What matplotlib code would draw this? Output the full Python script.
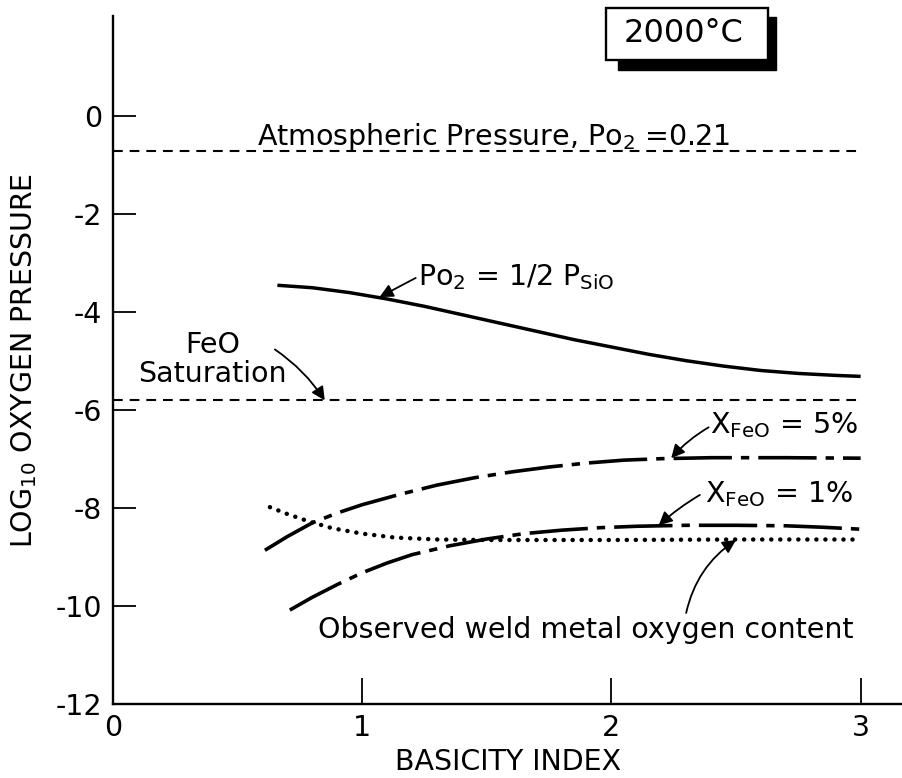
import matplotlib
matplotlib.use("Agg")
import matplotlib.pyplot as plt
from matplotlib.patches import Rectangle

plt.rcParams['font.family'] = ['DejaVu Sans']
plt.rcParams['mathtext.default'] = 'regular'
plt.rcParams['lines.scale_dashes'] = False

# horizontal reference levels
atm_level = -0.70
feo_sat_level = -5.80
hline_x = [0.0, 3.0]

# Po2 = 1/2 PSiO
psio_x = [0.66, 0.80, 0.95, 1.10, 1.25, 1.40, 1.55, 1.70, 1.85, 2.00, 2.15, 2.30, 2.45, 2.60, 2.75, 2.90, 3.00]
psio_y = [-3.45, -3.50, -3.60, -3.73, -3.88, -4.05, -4.22, -4.39, -4.56, -4.71, -4.86, -4.99, -5.10, -5.19, -5.25, -5.29, -5.31]

# X_FeO = 5%
feo5_x = [0.61, 0.70, 0.80, 0.90, 1.00, 1.15, 1.30, 1.45, 1.60, 1.75, 1.90, 2.05, 2.20, 2.40, 2.70, 3.00]
feo5_y = [-8.86, -8.58, -8.30, -8.10, -7.93, -7.72, -7.53, -7.38, -7.26, -7.16, -7.08, -7.02, -6.99, -6.97, -6.97, -6.98]

# X_FeO = 1%
feo1_x = [0.71, 0.80, 0.90, 1.00, 1.10, 1.20, 1.35, 1.50, 1.65, 1.80, 1.95, 2.10, 2.30, 2.50, 2.70, 2.85, 3.00]
feo1_y = [-10.08, -9.82, -9.56, -9.32, -9.12, -8.95, -8.77, -8.63, -8.52, -8.45, -8.40, -8.37, -8.35, -8.35, -8.36, -8.39, -8.43]

# observed weld metal oxygen
obs_x = [0.63, 0.70, 0.78, 0.88, 1.00, 1.13, 1.30, 1.50, 2.00, 2.50, 3.00]
obs_y = [-7.98, -8.12, -8.26, -8.41, -8.52, -8.60, -8.64, -8.65, -8.65, -8.64, -8.64]

xticks = [0, 1, 2, 3]
yticks = [-12, -10, -8, -6, -4, -2, 0]
ytick_labels = ['-12', '-10', '-8', '-6', '-4', '-2', '0']

fs = 20.5

fig = plt.figure(figsize=(9.03, 7.78), dpi=100)
ax = fig.add_axes([0.125, 0.095, 0.875, 0.884])

# dashed reference lines
ax.plot(hline_x, [atm_level, atm_level], color='k', lw=1.5, dashes=(7, 5))
ax.plot(hline_x, [feo_sat_level, feo_sat_level], color='k', lw=1.5, dashes=(7, 5))

ax.plot(psio_x, psio_y, color='k', lw=2.5, solid_capstyle='butt')
ax.plot(feo5_x, feo5_y, color='k', lw=2.6, dashes=(42, 6.5, 6, 6.5), dash_capstyle='butt')
ax.plot(feo1_x, feo1_y, color='k', lw=2.6, dashes=(42, 6.5, 6, 6.5), dash_capstyle='butt')
ax.plot(obs_x, obs_y, color='k', lw=3.2, dashes=(0.1, 6.4), dash_capstyle='round')

ax.set_xlim(0, 3.17)
ax.set_ylim(-12, 2.04)
ax.spines['top'].set_visible(False)
ax.spines['right'].set_visible(False)
ax.spines['left'].set_linewidth(1.7)
ax.spines['bottom'].set_linewidth(1.7)

ax.set_xticks(xticks)
ax.set_xticklabels([str(t) for t in xticks], fontsize=fs)
ax.set_yticks(yticks)
ax.set_yticklabels(ytick_labels, fontsize=fs)
ax.tick_params(axis='y', direction='in', length=16.5, width=1.3, pad=8)
ax.tick_params(axis='x', direction='in', length=19, width=1.3, pad=7)

ax.set_xlabel('BASICITY INDEX', fontsize=fs)
ax.xaxis.set_label_coords(0.5, -0.064)
ax.set_ylabel('LOG$_{10}$ OXYGEN PRESSURE', fontsize=fs)
ax.yaxis.set_label_coords(-0.094, 0.5)

# labels
ax.text(0.58, -0.59, 'Atmospheric Pressure, Po$_2$ =0.21', fontsize=fs, ha='left', va='baseline')
ax.text(0.40, -4.96, 'FeO\nSaturation', fontsize=fs, ha='center', va='center', linespacing=1.05)
ax.text(1.223, -3.45, 'Po$_2$ = 1/2 P$_{SiO}$', fontsize=fs, ha='left', va='baseline')
ax.text(2.395, -6.47, 'X$_{FeO}$ = 5%', fontsize=fs, ha='left', va='baseline')
ax.text(2.375, -7.88, 'X$_{FeO}$ = 1%', fontsize=fs, ha='left', va='baseline')
ax.text(0.822, -10.65, 'Observed weld metal oxygen content', fontsize=fs, ha='left', va='baseline')

arrow = dict(arrowstyle='-|>', color='k', lw=1.3, mutation_scale=20, shrinkA=0, shrinkB=0)
ax.annotate('', xy=(0.85, -5.80), xytext=(0.65, -4.76),
            arrowprops=dict(arrow, connectionstyle='arc3,rad=-0.1'))
ax.annotate('', xy=(1.07, -3.69), xytext=(1.215, -3.30),
            arrowprops=dict(arrow, connectionstyle='arc3,rad=0'))
ax.annotate('', xy=(2.24, -6.98), xytext=(2.39, -6.35),
            arrowprops=dict(arrow, connectionstyle='arc3,rad=0.08'))
ax.annotate('', xy=(2.19, -8.35), xytext=(2.355, -7.73),
            arrowprops=dict(arrow, connectionstyle='arc3,rad=0.05'))
ax.annotate('', xy=(2.50, -8.65), xytext=(2.30, -10.14),
            arrowprops=dict(arrow, connectionstyle='arc3,rad=-0.2'))

# 2000 C box with shadow (figure pixel coords converted)
W, H = 903.0, 778.0
shadow = Rectangle((618 / W, 1 - 70 / H), (776 - 618) / W, (70 - 17) / H,
                   transform=fig.transFigure, facecolor='k', edgecolor='k')
box = Rectangle((606 / W, 1 - 60 / H), (768 - 606) / W, (60 - 8) / H,
                transform=fig.transFigure, facecolor='white', edgecolor='k', lw=1.7)
fig.add_artist(shadow)
fig.add_artist(box)
fig.text(684 / W, 1 - 34 / H, '2000°C', fontsize=23, ha='center', va='center')

fig.savefig('out.png', dpi=100)
